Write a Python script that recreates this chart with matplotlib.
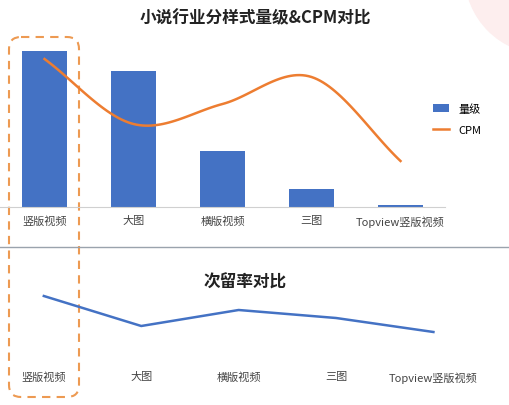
import numpy as np
import matplotlib
matplotlib.use("Agg")
import matplotlib.pyplot as plt
from matplotlib.patches import FancyBboxPatch, Circle

plt.rcParams['font.family'] = ['Noto Sans CJK SC', 'DejaVu Sans']

categories_top = ["竖版视频", "大图", "横版视频", "三图", "Topview竖版视频"]
volume = [156, 136, 56, 18, 2]
cpm = [148, 83, 103, 130, 46]
categories_bottom = ["竖版视频", "大图", "横版视频", "三图", "Topview竖版视频"]
retention = [53, 23, 39, 31, 17]

W, H = 509, 406
fig = plt.figure(figsize=(W/100, H/100), dpi=100)
fig.patch.set_facecolor("white")

def fx(px): return px / W
def fy(py): return 1 - py / H

deco = fig.add_axes([0, 0, 1, 1])
deco.set_xlim(0, W); deco.set_ylim(H, 0); deco.axis("off")
deco.add_patch(Circle((545, -25), 80, color="#fdeeee", zorder=0))
deco.plot([0, W], [248, 248], color="#9aa3ad", lw=1)
deco.add_patch(FancyBboxPatch((9, 38), 70, 360, boxstyle="round,pad=0,rounding_size=12",
                              fill=False, ec="#ed9a52", lw=1.5, ls=(0, (4, 3))))
deco.text(255, 18, "小说行业分样式量级&CPM对比", ha="center", va="center", fontsize=12, fontweight="bold", color="#222")
deco.text(245, 283, "次留率对比", ha="center", va="center", fontsize=12, fontweight="bold", color="#222")

ax1 = fig.add_axes([0, fy(208), fx(445), fy(48) - fy(208)])
x = np.arange(len(categories_top))
bars = ax1.bar(x, volume, width=0.5, color="#4472c4", label="量级")
def smooth(xs, ys, n=30):
    xs = np.asarray(xs, float); ys = np.asarray(ys, float)
    P = np.column_stack([xs, ys])
    P = np.vstack([2*P[0]-P[1], P, 2*P[-1]-P[-2]])
    out = []
    for i in range(1, len(P)-2):
        p0, p1, p2, p3 = P[i-1], P[i], P[i+1], P[i+2]
        for t in np.linspace(0, 1, n, endpoint=False):
            out.append(0.5*((2*p1) + (-p0+p2)*t + (2*p0-5*p1+4*p2-p3)*t**2 + (-p0+3*p1-3*p2+p3)*t**3))
    out.append(P[-2])
    out = np.array(out)
    return out[:, 0], out[:, 1]
sx, sy = smooth(x, cpm)
line, = ax1.plot(sx, sy, color="#ed7d31", lw=1.8, label="CPM")
ax1.set_xlim(-0.5, 4.5); ax1.set_ylim(0, 160)
ax1.set_xticks(x); ax1.set_xticklabels(categories_top, fontsize=8, color="#444")
ax1.tick_params(length=0, pad=6)
ax1.set_yticks([])
for s in ["top", "left", "right"]: ax1.spines[s].set_visible(False)
ax1.spines["bottom"].set_color("#d0d0d0")
ax1.patch.set_alpha(0)
ax1.legend([bars, line], ["量级", "CPM"], loc="center left", bbox_to_anchor=(0.95, 0.55),
           frameon=False, fontsize=8, handlelength=1.5, labelspacing=1.0)

ax2 = fig.add_axes([0, fy(350), fx(487), fy(270) - fy(350)])
xb = np.arange(len(categories_bottom))
ax2.plot(xb, retention, color="#4472c4", lw=1.8)
ax2.set_xlim(-0.45, 4.55); ax2.set_ylim(0, 80)
ax2.set_xticks(xb); ax2.set_xticklabels(categories_bottom, fontsize=8, color="#444")
ax2.tick_params(length=0, pad=16)
ax2.set_yticks([])
for s in ax2.spines.values(): s.set_visible(False)
ax2.patch.set_alpha(0)

fig.savefig("out.png", dpi=100)
